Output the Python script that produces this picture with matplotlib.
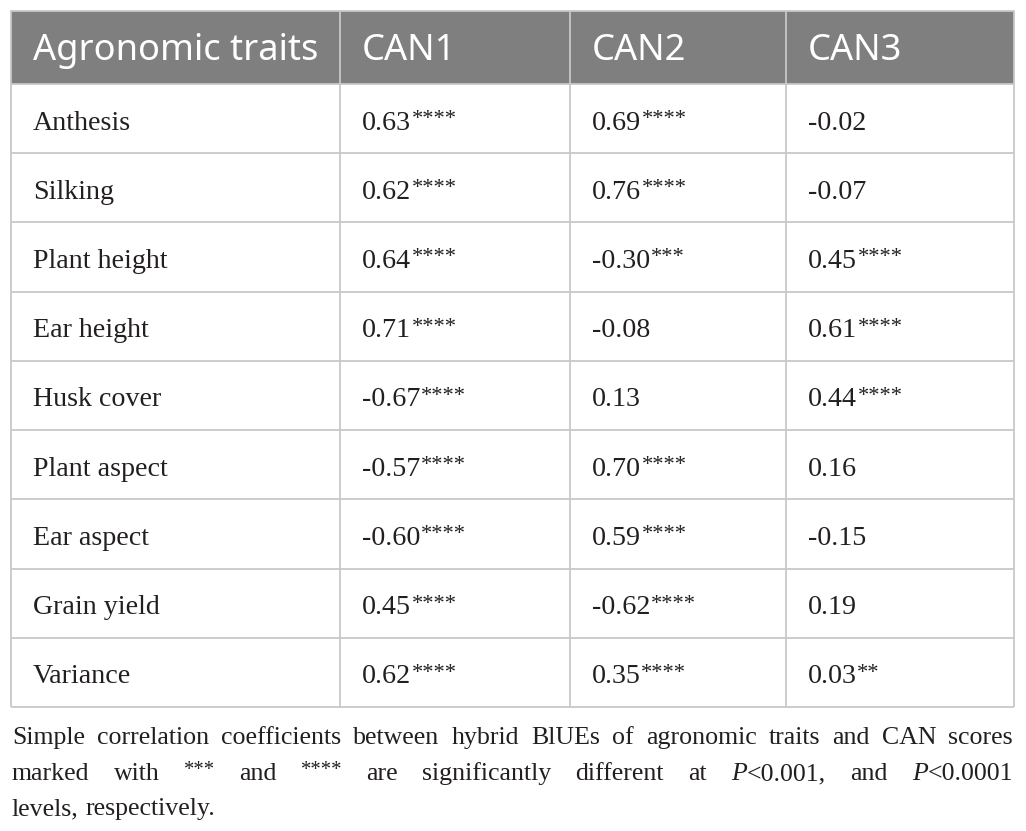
import matplotlib
matplotlib.use("Agg")
import matplotlib.pyplot as plt
from matplotlib.patches import Rectangle

# table content
header = ["Agronomic traits", "CAN1", "CAN2", "CAN3"]
traits = ["Anthesis", "Silking", "Plant height", "Ear height", "Husk cover",
          "Plant aspect", "Ear aspect", "Grain yield", "Variance"]
can1 = [0.63, 0.62, 0.64, 0.71, -0.67, -0.57, -0.60, 0.45, 0.62]
can1_stars = [4, 4, 4, 4, 4, 4, 4, 4, 4]
can2 = [0.69, 0.76, -0.30, -0.08, 0.13, 0.70, 0.59, -0.62, 0.35]
can2_stars = [4, 4, 3, 0, 0, 4, 4, 4, 4]
can3 = [-0.02, -0.07, 0.45, 0.61, 0.44, 0.16, -0.15, 0.19, 0.03]
can3_stars = [0, 0, 4, 4, 4, 0, 0, 0, 2]

note_lines = [
    "Simple correlation coefficients between hybrid BlUEs of agronomic traits and CAN scores",
    "marked with *** and **** are significantly different at P<0.001, and P<0.0001",
    "levels, respectively.",
]

# layout (pixels)
W, H = 1026, 831
col_edges = [11, 340, 570, 786, 1014]
top, head_bottom, bottom = 11, 84, 707
pad = 22
HEAD_BG = "#7f7f7f"
GRID = "#c8c8c8"
INK = "#231f20"
SERIF = "Liberation Serif"
BODY_FS = 20.2
HEAD_FS = 26.1
NOTE_FS = 18.6

fig = plt.figure(figsize=(W / 100, H / 100), dpi=100)
ax = fig.add_axes([0, 0, 1, 1])
ax.set_xlim(0, W)
ax.set_ylim(H, 0)
ax.axis("off")
renderer = fig.canvas.get_renderer()


def width(t):
    return t.get_window_extent(renderer).width


def draw_value(x, y, txt, stars, fs):
    t = ax.text(x, y, txt, fontsize=fs, family=SERIF, color=INK, va="baseline")
    w = width(t)
    if stars:
        s = ax.text(x + w + 0.5, y - fs * 0.28, "*" * stars, fontsize=fs * 0.8,
                    family=SERIF, color=INK, va="baseline")
        w += width(s) + 0.5
    return w


# header
ax.add_patch(Rectangle((col_edges[0], top), col_edges[-1] - col_edges[0], head_bottom - top,
                       facecolor=HEAD_BG, edgecolor="none"))
for i, h in enumerate(header):
    ax.text(col_edges[i] + pad, 60, h, fontsize=HEAD_FS,
            family="Noto Sans", color="white", va="baseline")

# grid
n = len(traits)
row_h = (bottom - head_bottom) / n
for k in range(n + 1):
    y = head_bottom + k * row_h
    ax.plot([col_edges[0], col_edges[-1]], [y, y], color=GRID, lw=1.3, solid_capstyle="butt")
for x in col_edges:
    ax.plot([x, x], [top, bottom], color=GRID, lw=1.3, solid_capstyle="butt")
ax.plot([col_edges[0], col_edges[-1]], [top, top], color=GRID, lw=1.3)

# body
cols = [(can1, can1_stars), (can2, can2_stars), (can3, can3_stars)]
for r, trait in enumerate(traits):
    yb = head_bottom + (r + 0.5) * row_h + 11
    ax.text(col_edges[0] + pad, yb, trait, fontsize=BODY_FS, family=SERIF, color=INK, va="baseline")
    for c, (vals, stars) in enumerate(cols):
        draw_value(col_edges[c + 1] + pad, yb, f"{vals[r]:.2f}", stars[r], BODY_FS)

# footnote, justified
left, right = 12, 1013
base = [744, 780, 815]


def word_parts(word):
    # split a word into (text, kind) segments
    if set(word) == {"*"}:
        return [(word, "sup")]
    if word.startswith("P<"):
        return [("P", "it"), (word[1:], "rm")]
    return [(word, "rm")]


def place_word(x, y, word, measure_only=False):
    total = 0
    objs = []
    for txt, kind in word_parts(word):
        if kind == "sup":
            t = ax.text(x + total, y - NOTE_FS * 0.28, txt, fontsize=NOTE_FS * 0.8,
                        family=SERIF, color=INK, va="baseline")
        else:
            t = ax.text(x + total, y, txt, fontsize=NOTE_FS, family=SERIF, color=INK,
                        va="baseline", style="italic" if kind == "it" else "normal")
        total += width(t)
        objs.append(t)
    if measure_only:
        for t in objs:
            t.remove()
    return total


for li, line in enumerate(note_lines):
    words = line.split(" ")
    widths = [place_word(0, -100, w, measure_only=True) for w in words]
    if li < len(note_lines) - 1:
        gap = (right - left - sum(widths)) / (len(words) - 1)
    else:
        gap = NOTE_FS * 100 / 72 * 0.25
    x = left
    for w, ww in zip(words, widths):
        place_word(x, base[li], w)
        x += ww + gap

fig.savefig("out.png", dpi=100)
